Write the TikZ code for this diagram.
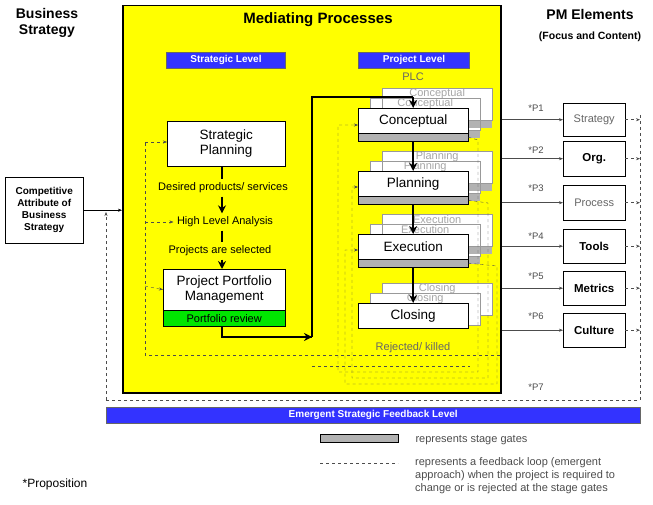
\documentclass[tikz,border=0pt]{standalone}
\usepackage{fontspec}
\setmainfont{Liberation Sans}
\usetikzlibrary{arrows.meta}
\definecolor{yel}{RGB}{255,255,0}
\definecolor{blu}{RGB}{51,51,255}
\definecolor{grn}{RGB}{0,230,0}
\begin{document}
\begin{tikzpicture}[x=1pt,y=-1pt,
  box/.style={draw,fill=white,inner sep=0pt,anchor=north west},
  ttl/.style={font=\fontsize{14}{16}\selectfont\bfseries},
  lbl/.style={font=\fontsize{11}{13}\selectfont},
  big/.style={font=\fontsize{13.5}{15.5}\selectfont},
  sm/.style={font=\fontsize{9.5}{11}\selectfont},
  fb/.style={draw=black!70,dashed,thin},
  thk/.style={line width=2.2pt,-{Stealth[length=8pt,width=8pt]}},
  ar/.style={-{Stealth[length=4pt]}},
  gate/.style={fill=black!30,draw}]
\useasboundingbox (0,0) rectangle (653,505);
% yellow
\node[draw,line width=1.5pt,fill=yel,minimum width=378,minimum height=387,anchor=north west,inner sep=0] (Y) at (122,5) {};
\node[ttl,font=\fontsize{15}{17}\selectfont\bfseries] (mp) at (318,20) {Mediating Processes};
\node[ttl,align=center] (bs) at (47,23) {Business\\Strategy};
\node[ttl] (pm) at (590,14) {PM Elements};
\node[font=\fontsize{10.5}{12}\selectfont\bfseries] (fc) at (590,37) {(Focus and Content)};
\node[fill=blu,draw=black!60,text=white,font=\fontsize{10}{11}\selectfont\bfseries,minimum width=119,minimum height=16,inner sep=0] (sl) at (226,60) {Strategic Level};
\node[fill=blu,draw=black!60,text=white,font=\fontsize{10}{11}\selectfont\bfseries,minimum width=111,minimum height=16,inner sep=0] (pl) at (414,60) {Project Level};
\node[lbl,text=black!60] (plc) at (413,77) {PLC};
% strategic
\node[box,minimum width=118,minimum height=45] (sp) at (167,121) {};
\node[big,align=center] (spt) at (sp.center) {Strategic\\Planning};
\node[lbl] (dp) at (223,188) {Desired products/ services};
\node[lbl] (hla) at (225,222) {High Level Analysis};
\node[lbl] (pas) at (220,251) {Projects are selected};
\node[box,minimum width=122,minimum height=41] (ppm) at (163,269) {};
\node[big,align=center] (ppmt) at (ppm.center) {Project Portfolio\\Management};
\node[box,fill=grn,minimum width=122,minimum height=16] (pr) at (163,310) {};
\node[lbl] (prt) at (pr.center) {Portfolio review};
\draw[line width=2.2pt] (sp.south -| 222,0) -- (dp.north -| 222,0);
\draw[thk] (dp.south -| 222,0) -- (hla.north -| 222,0);
\draw[line width=2.2pt] (hla.south -| 222,0) -- (pas.north -| 222,0);
\draw[thk] (pas.south -| 222,0) -- (ppm.north -| 222,0);
% project level stacks
\foreach \n/\t/\yy/\g in {c/Conceptual/108/1,p/Planning/171/1,e/Execution/234/1,k/Closing/303/0}{
  \node[box,draw=black!40,minimum width=110,minimum height=32] (\n2) at (382,\yy-20) {};
  \node[lbl,text=black!35] at ([yshift=-6]\n2.north) {\t};
  \node[box,draw=black!40,minimum width=110,minimum height=32] (\n1) at (370,\yy-10) {};
  \node[lbl,text=black!35] at ([yshift=-6]\n1.north) {\t};
  \ifnum\g=1
  \fill[black!30] ([yshift=-8]\n2.south west) rectangle (\n2.south east);
  \fill[black!30] ([yshift=-8]\n1.south west) rectangle (\n1.south east);
  \draw[black!40] (\n2.south west) rectangle (\n2.north east);
  \draw[black!40] (\n1.south west) rectangle (\n1.north east);
  \node[box,minimum width=110,minimum height=25] (\n) at (358,\yy) {};
  \node[gate,minimum width=110,minimum height=8,anchor=north west,inner sep=0] (\n g) at (358,\yy+25) {};
  \else
  \node[box,minimum width=110,minimum height=25] (\n) at (358,\yy) {};
  \fi
  \node[big] at (\n.center) {\t};
}
\draw[thk] (cg.south) -- (p.north);
\draw[thk] (pg.south) -- (e.north);
\draw[thk] (eg.south) -- (k.north);
\node[lbl,text=black!60] (rk) at (413,348) {Rejected/ killed};
% main thick path
\coordinate (m1) at (222,337);
\coordinate (m2) at (312,337);
\coordinate (m3) at (312,97);
\draw[line width=2.2pt] (pr.south -| m1) -- (m1) -- (m2);
\draw[thk] (m1) -- (m2);
\draw[line width=2.2pt] (m2) -- (m3) -- (m3 -| c.north);
\draw[thk] (m3 -| c.north) -- (c.north);
% strategic feedback
\coordinate (f1) at (145,142);
\coordinate (f2) at (145,355);
\draw[fb] (f2 -| 500,0) -- (f2) -- (f1);
\draw[fb,ar] (f1) -- (sp.west |- f1);
\draw[fb,ar] (145,222) -- (hla.west);
\draw[fb,ar] (145,286) -- (ppm.west);
% project feedback loops
\draw[fb,ar] (cg.east) -- (478,140) -- (478,372) -- (338,372) -- (338,125) -- (358,125);
\draw[fb,ar] (pg.east) -- (488,203) -- (488,378) -- (352,378) -- (352,187) -- (358,187);
\draw[fb,ar] (eg.east) -- (497,266) -- (497,384) -- (345,384) -- (345,250) -- (358,250);
\draw[fb] (312,366) -- (470,366);
% PM elements
\foreach \n/\t/\yy/\h/\s/\c in {s1/Strategy/103/33/0/60,s2/Org./141/35/1/100,s3/Process/185/35/0/60,s4/Tools/229/34/1/100,s5/Metrics/271/34/1/100,s6/Culture/313/34/1/100}{
  \node[box,draw=black,minimum width=62,minimum height=\h] (\n) at (563,\yy) {};
  \ifnum\s=1
    \node[font=\fontsize{11.5}{13}\selectfont\bfseries] at (\n.center) {\t};
  \else
    \node[lbl,text=black!\c] at (\n.center) {\t};
  \fi
  \draw[black!70,ar] (Y.east |- \n.center) -- (\n.west);
  \draw[fb,ar] (\n.east) -- (640,0 |- \n.center);
}
\foreach \i/\yy in {1/108,2/150,3/188,4/236,5/276,6/316,7/387}{
  \node[sm,text=black!70] (p\i) at (536,\yy) {*P\i};
}
% competitive
\node[box,minimum width=78,minimum height=66] (ca) at (5,177) {};
\node[font=\fontsize{10}{12}\selectfont\bfseries,align=center] at (ca.center) {Competitive\\Attribute of\\Business\\Strategy};
\draw[ar] (ca.east) -- (Y.west |- ca.east);
\coordinate (b1) at (640,115);
\coordinate (b2) at (640,400);
\coordinate (b3) at (106,400);
\draw[fb] (b1) -- (b2) -- (b3);
\draw[fb,ar] (b3) -- (106,212);
% feedback bar
\node[fill=blu,draw=black!60,text=white,font=\fontsize{10}{11}\selectfont\bfseries,minimum width=534,minimum height=16,inner sep=0,anchor=north west] (ef) at (106,407) {Emergent Strategic Feedback Level};
% legend
\node[gate,minimum width=78,minimum height=8,inner sep=0] (lg) at (359,438) {};
\node[lbl,text=black!70,anchor=west] (lgt) at (412,440) {represents stage gates};
\coordinate (ld1) at (320,463);
\coordinate (ld2) at (398,463);
\draw[fb] (ld1) -- (ld2);
\node[lbl,text=black!70,anchor=north west,align=left,inner sep=0] (ldt) at (415,457) {represents a feedback loop (emergent\\approach) when the project is required to\\change or is rejected at the stage gates};
\node[font=\fontsize{12}{14}\selectfont] (prop) at (55,484) {*Proposition};
\end{tikzpicture}
\end{document}
